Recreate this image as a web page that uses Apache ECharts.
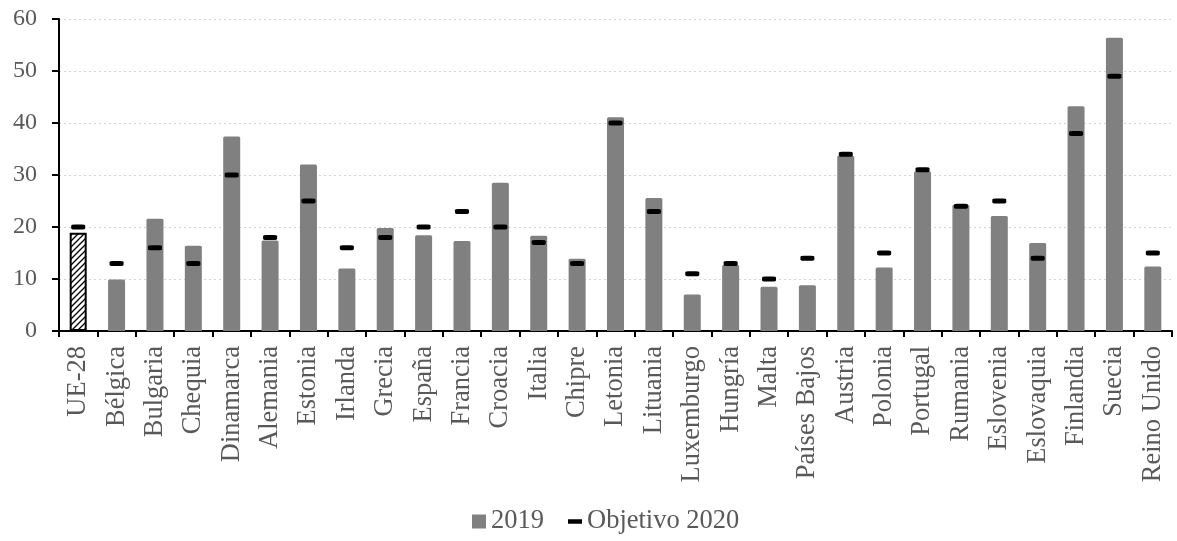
<!DOCTYPE html>
<html><head><meta charset="utf-8">
<script src="https://cdn.jsdelivr.net/npm/echarts@6/dist/echarts.min.js"></script>
<style>html,body{margin:0;padding:0;background:#fff}#c{width:1177px;height:541px}</style>
</head><body><div id="c"></div>
<script>
const categories = ['UE-28','Bélgica','Bulgaria','Chequia','Dinamarca','Alemania','Estonia','Irlanda','Grecia','España','Francia','Croacia','Italia','Chipre','Letonia','Lituania','Luxemburgo','Hungría','Malta','Países Bajos','Austria','Polonia','Portugal','Rumania','Eslovenia','Eslovaquia','Finlandia','Suecia','Reino Unido'];
const values2019 = [18.9,9.9,21.6,16.4,37.4,17.4,32.0,12.0,19.8,18.4,17.3,28.5,18.3,13.9,41.1,25.6,7.0,12.7,8.5,8.8,33.7,12.2,30.7,24.3,22.1,16.9,43.2,56.4,12.4];
const target2020 = [20,13,16,13,30,18,25,16,18,20,23,20,17,13,40,23,11,13,10,14,34,15,31,24,25,14,38,49,15];
const yTicks = [0,10,20,30,40,50,60];

// hatch pattern for the EU-28 bar
const pc = document.createElement('canvas');
pc.width = 6; pc.height = 6;
const g = pc.getContext('2d');
g.fillStyle = '#fff'; g.fillRect(0,0,6,6);
g.strokeStyle = '#000'; g.lineWidth = 1.3;
g.beginPath();
g.moveTo(-1,7); g.lineTo(7,-1);
g.moveTo(-4,4); g.lineTo(4,-4);
g.moveTo(2,10); g.lineTo(10,2);
g.stroke();

const font = 'Liberation Serif';
const txt = '#595959';
const barData = values2019.map((v,i) => i === 0 ? {
  value: v,
  itemStyle: {color: {image: pc, repeat: 'repeat'}, borderColor: '#000', borderWidth: 2, borderRadius: 0}
} : v);

const chart = echarts.init(document.getElementById('c'), null, {renderer: 'canvas'});
chart.setOption({
  animation: false,
  grid: {left: 59, right: 5, top: 19, bottom: 210, containLabel: false},
  legend: {
    bottom: 1, left: 467, itemGap: 24, itemWidth: 14, itemHeight: 14,
    textStyle: {fontFamily: font, fontSize: 26.5, color: txt},
    data: [
      {name: '2019', icon: 'rect'},
      {name: 'Objetivo 2020', icon: 'path://M0,0 H14 V4.5 H0 Z'}
    ]
  },
  xAxis: {
    type: 'category', data: categories,
    axisLine: {lineStyle: {color: '#000', width: 2}},
    axisTick: {show: true, alignWithLabel: false, length: 6, lineStyle: {color: '#000', width: 2}},
    axisLabel: {rotate: 90, interval: 0, margin: 15, fontFamily: font, fontSize: 26.5, color: txt}
  },
  yAxis: {
    type: 'value', min: yTicks[0], max: yTicks[yTicks.length-1], interval: 10,
    axisLine: {show: true, lineStyle: {color: '#000', width: 2}},
    axisTick: {show: true, length: 7, lineStyle: {color: '#000', width: 2}},
    axisLabel: {margin: 22, fontFamily: font, fontSize: 24, color: txt},
    splitLine: {show: true, lineStyle: {color: '#d4d4d4', type: [2,3], width: 1}}
  },
  series: [
    {
      name: '2019', type: 'bar', data: barData, barWidth: 17,
      itemStyle: {color: '#808080', borderRadius: [1.5,1.5,0,0]}
    },
    {
      name: 'Objetivo 2020', type: 'scatter', data: target2020,
      symbol: 'roundRect', symbolSize: [14, 5], z: 5,
      itemStyle: {color: '#000', opacity: 1}
    }
  ]
});
</script></body></html>
